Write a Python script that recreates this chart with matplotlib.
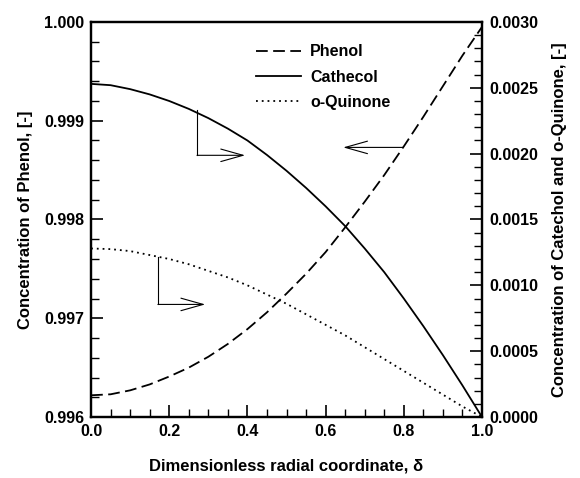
import matplotlib.pyplot as plt
from matplotlib.ticker import MultipleLocator, FormatStrFormatter

# Data
delta = [0.00, 0.05, 0.10, 0.15, 0.20, 0.25, 0.30, 0.35, 0.40, 0.45, 0.50,
         0.55, 0.60, 0.65, 0.70, 0.75, 0.80, 0.85, 0.90, 0.95, 1.00]
phenol = [0.99622, 0.99623, 0.99627, 0.99633, 0.99641, 0.99650, 0.99661,
          0.99674, 0.99689, 0.99706, 0.99725, 0.99745, 0.99767, 0.99792,
          0.99818, 0.99845, 0.99874, 0.99904, 0.99935, 0.99966, 0.99995]
catechol = [0.00253, 0.00252, 0.00249, 0.00245, 0.00240, 0.00234, 0.00227,
            0.00219, 0.00210, 0.00199, 0.00187, 0.00174, 0.00160, 0.00145,
            0.00128, 0.00110, 0.00090, 0.00069, 0.00047, 0.00024, 0.0]
quinone = [0.00128, 0.001275, 0.00126, 0.00123, 0.00120, 0.00116, 0.00111,
           0.00106, 0.00100, 0.00093, 0.00086, 0.00078, 0.00070, 0.00062,
           0.00053, 0.00044, 0.00035, 0.00026, 0.00017, 0.00008, 0.0]

plt.rcParams['font.family'] = ['Liberation Sans', 'DejaVu Sans']
plt.rcParams['font.weight'] = 'bold'
fs = 11.5

fig = plt.figure(figsize=(5.8, 4.78), dpi=100)
ax = fig.add_axes([0.157, 0.1276, 0.674, 0.8264])
ax2 = ax.twinx()

ax.plot(delta, phenol, color='black', lw=1.3, ls=(0, (6.5, 3)), label='Phenol')
ax2.plot(delta, catechol, color='black', lw=1.3, ls='-', label='Cathecol')
ax2.plot(delta, quinone, color='black', lw=1.3, ls=(0, (1, 2.2)), label='o-Quinone')

ax.set_xlim(0, 1)
ax.set_ylim(0.996, 1.000)
ax2.set_ylim(0, 0.003)

ax.xaxis.set_major_locator(MultipleLocator(0.2))
ax.xaxis.set_minor_locator(MultipleLocator(0.05))
ax.yaxis.set_major_locator(MultipleLocator(0.001))
ax.yaxis.set_minor_locator(MultipleLocator(0.0002))
ax2.yaxis.set_major_locator(MultipleLocator(0.0005))
ax2.yaxis.set_minor_locator(MultipleLocator(0.0001))
ax.xaxis.set_major_formatter(FormatStrFormatter('%.1f'))
ax.yaxis.set_major_formatter(FormatStrFormatter('%.3f'))
ax2.yaxis.set_major_formatter(FormatStrFormatter('%.4f'))

for a in (ax, ax2):
    for s in a.spines.values():
        s.set_linewidth(1.6)
    a.tick_params(which='major', direction='in', length=8.5, width=1.2,
                  labelsize=fs, pad=5)
    a.tick_params(which='minor', direction='in', length=5.5, width=1.0)
ax.tick_params(which='both', top=False, right=False)
ax2.tick_params(which='both', left=False, right=True)

ax.set_xlabel('Dimensionless radial coordinate, δ', fontsize=12, fontweight='bold', labelpad=14)
ax.set_ylabel('Concentration of Phenol, [-]', fontsize=12, fontweight='bold', labelpad=8)
ax2.set_ylabel('Concentration of Catechol and o-Quinone, [-]', fontsize=12,
               fontweight='bold', labelpad=10)

# Legend
h1, l1 = ax.get_legend_handles_labels()
h2, l2 = ax2.get_legend_handles_labels()
leg = ax2.legend(h1 + h2, l1 + l2, loc='upper left', bbox_to_anchor=(0.385, 0.98),
                 frameon=False, fontsize=fs, handlelength=2.8, handletextpad=0.6,
                 labelspacing=0.65)
for t in leg.get_texts():
    t.set_fontweight('bold')

# Pointer arrows
arw = dict(arrowstyle='->,head_length=1.6,head_width=0.45', color='black',
           lw=0.8, mutation_scale=10, shrinkA=0, shrinkB=0)
ax.plot([0.271, 0.271], [0.99911, 0.99865], color='black', lw=0.8)
ax.annotate('', xy=(0.394, 0.99865), xytext=(0.271, 0.99865), arrowprops=arw)
ax.plot([0.171, 0.171], [0.99762, 0.99714], color='black', lw=0.8)
ax.annotate('', xy=(0.292, 0.99714), xytext=(0.171, 0.99714), arrowprops=arw)
ax.annotate('', xy=(0.645, 0.99873), xytext=(0.798, 0.99873), arrowprops=arw)

fig.savefig('out.png', dpi=100)
